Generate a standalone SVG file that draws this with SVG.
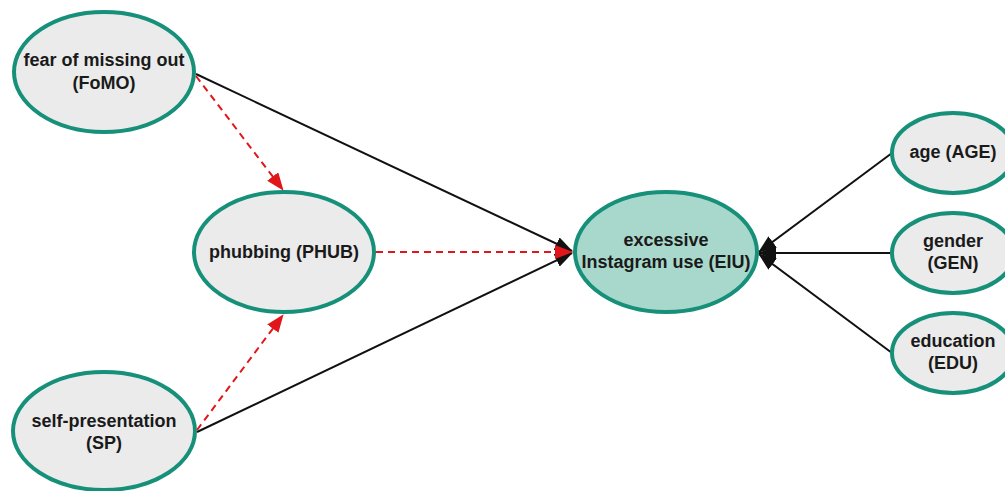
<svg xmlns="http://www.w3.org/2000/svg" width="1005" height="491" viewBox="0 0 1005 491">
<defs>
<style>
.node{fill:#ebebeb;stroke:#17907a;stroke-width:4}
.main{fill:#a8d8cc}
.t{font-family:"Liberation Sans",Arial,sans-serif;font-weight:bold;font-size:18px;fill:#1a1a1a;text-anchor:middle}
.solid{stroke:#111;stroke-width:2;fill:none}
.dash{stroke:#e0161b;stroke-width:2;stroke-dasharray:7,5;fill:none}
</style>
<marker id="ab" viewBox="0 0 18 14" refX="17" refY="7" markerWidth="18" markerHeight="14" markerUnits="userSpaceOnUse" orient="auto">
<path d="M0,0 L18,7 L0,14 Z" fill="#111"/>
</marker>
<marker id="ar" viewBox="0 0 18 14" refX="17" refY="7" markerWidth="18" markerHeight="14" markerUnits="userSpaceOnUse" orient="auto">
<path d="M0,0 L18,7 L0,14 Z" fill="#e0161b"/>
</marker>
</defs>
<rect width="1005" height="491" fill="#ffffff"/>
<g id="connectors">
<line class="solid" x1="196" y1="74" x2="572" y2="251" marker-end="url(#ab)"/>
<line class="solid" x1="197" y1="432" x2="572" y2="253" marker-end="url(#ab)"/>
<line class="dash" x1="196" y1="76" x2="283" y2="190" marker-end="url(#ar)"/>
<line class="dash" x1="197" y1="430" x2="283" y2="315" marker-end="url(#ar)"/>
<line class="dash" x1="376" y1="252" x2="572" y2="252" marker-end="url(#ar)"/>
<line class="solid" x1="892" y1="153" x2="759" y2="252" marker-end="url(#ab)"/>
<line class="solid" x1="892" y1="253" x2="759" y2="253" marker-end="url(#ab)"/>
<line class="solid" x1="892" y1="353" x2="759" y2="254" marker-end="url(#ab)"/>
</g>
<g id="FoMO">
<ellipse class="node" cx="104" cy="72" rx="90" ry="60"/>
<text class="t" x="104" y="66">fear of missing out</text>
<text class="t" x="104" y="89">(FoMO)</text>
</g>
<g id="PHUB">
<ellipse class="node" cx="284" cy="252" rx="90" ry="60"/>
<text class="t" x="284" y="258">phubbing (PHUB)</text>
</g>
<g id="SP">
<ellipse class="node" cx="104" cy="431" rx="91" ry="59"/>
<text class="t" x="104" y="427">self-presentation</text>
<text class="t" x="104" y="449">(SP)</text>
</g>
<g id="EIU">
<ellipse class="node main" cx="666" cy="252" rx="91" ry="60"/>
<text class="t" x="666" y="246">excessive</text>
<text class="t" x="666" y="268">Instagram use (EIU)</text>
</g>
<g id="AGE">
<ellipse class="node" cx="953" cy="153" rx="61" ry="40"/>
<text class="t" x="953" y="158">age (AGE)</text>
</g>
<g id="GEN">
<ellipse class="node" cx="953" cy="253" rx="61" ry="40"/>
<text class="t" x="953" y="247">gender</text>
<text class="t" x="953" y="269">(GEN)</text>
</g>
<g id="EDU">
<ellipse class="node" cx="953" cy="353" rx="61" ry="40"/>
<text class="t" x="953" y="347">education</text>
<text class="t" x="953" y="369">(EDU)</text>
</g>
</svg>
